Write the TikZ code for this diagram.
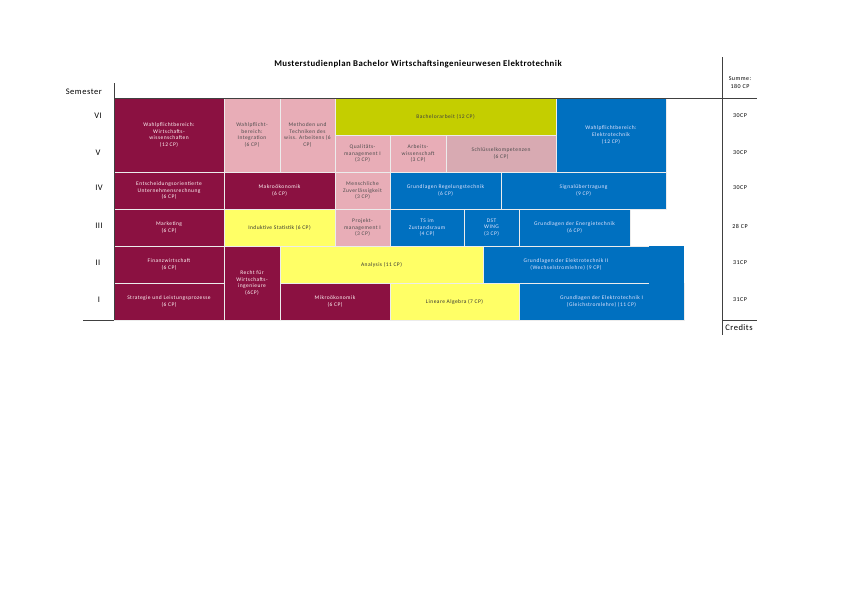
\documentclass[tikz,border=0pt]{standalone}
\usepackage{fontspec}
\setmainfont{Carlito}
\usepackage{tikz}
\definecolor{wiwired}{HTML}{8B1141}
\definecolor{integpink}{HTML}{E8ADB7}
\definecolor{softpink}{HTML}{D8AAB2}
\definecolor{thesisgreen}{HTML}{C4CE00}
\definecolor{mathyellow}{HTML}{FFFF66}
\definecolor{etblue}{HTML}{0070C0}
\tikzstyle{cell}=[rectangle,anchor=north west,inner sep=0mm,outer sep=0mm,draw=white!85!gray,line width=0.6,align=center,font=\fontsize{5.5}{6.6}\selectfont\addfontfeature{LetterSpace=8}]
\tikzstyle{onerow}=[minimum height=37pt]
\tikzstyle{tworow}=[minimum height=74pt]
\tikzstyle{wiwi}=[cell,fill=wiwired,text=white!85!pink]
\tikzstyle{integ}=[cell,fill=integpink,text=black!70]
\tikzstyle{soft}=[cell,fill=softpink,text=black!70]
\tikzstyle{thesis}=[cell,fill=thesisgreen,text=black!75]
\tikzstyle{mathe}=[cell,fill=mathyellow,text=black!80]
\tikzstyle{etech}=[cell,fill=etblue,text=white!90!blue]
\tikzstyle{sem}=[font=\fontsize{8.5}{9}\selectfont\addfontfeature{LetterSpace=6}]
\tikzstyle{sum}=[font=\fontsize{6}{8}\selectfont\addfontfeature{LetterSpace=8}]
\tikzstyle{axis}=[draw=black!75,line width=1]
\tikzset{every picture/.style={
    line width=1
  }
}

\begin{document}
\begin{tikzpicture}[x=1pt,y=-1pt]
      \useasboundingbox (0,0) rectangle (842,595);
      \node[font=\bfseries\fontsize{8.8}{9}\selectfont\addfontfeature{LetterSpace=5}] at (418,64) (title) {Musterstudienplan Bachelor Wirtschaftsingenieurwesen Elektrotechnik};
      % semester VI and V
      \node[wiwi,tworow,minimum width=110pt] at (114,98) (wpwiwi) {Wahlpflichtbereich:\\Wirtschafts-\\wissenschaften\\(12 CP)};
      \node[integ,tworow,minimum width=56pt] at (224,98) (wpint) {Wahlpflicht-\\bereich:\\Integration\\(6 CP)};
      \node[integ,tworow,minimum width=55pt] at (280,98) (methoden) {Methoden und\\Techniken des\\wiss. Arbeitens (6\\CP)};
      \node[thesis,onerow,minimum width=221pt] at (335,98) (bachelor) {Bachelorarbeit (12 CP)};
      \node[etech,tworow,minimum width=110pt] at (556,98) (wpet) {Wahlpflichtbereich:\\Elektrotechnik\\(12 CP)};
      \node[integ,onerow,minimum width=55pt] at (335,135) (quali) {Qualitäts-\\management I\\(3 CP)};
      \node[integ,onerow,minimum width=56pt] at (390,135) (arbwiss) {Arbeits-\\wissenschaft\\(3 CP)};
      \node[soft,onerow,minimum width=110pt] at (446,135) (schluessel) {Schlüsselkompetenzen\\(6 CP)};
      % semester IV
      \node[wiwi,onerow,minimum width=110pt] at (114,172) (unternehmen) {Entscheidungsorientierte\\Unternehmensrechnung\\(6 CP)};
      \node[wiwi,onerow,minimum width=111pt] at (224,172) (makro) {Makroökonomik\\(6 CP)};
      \node[integ,onerow,minimum width=55pt] at (335,172) (zuverl) {Menschliche\\Zuverlässigkeit\\(3 CP)};
      \node[etech,onerow,minimum width=111pt] at (390,172) (regelung) {Grundlagen Regelungstechnik\\(6 CP)};
      \node[etech,onerow,minimum width=165pt] at (501,172) (signal) {Signalübertragung\\(9 CP)};
      % semester III
      \node[wiwi,onerow,minimum width=110pt] at (114,209) (marketing) {Marketing\\(6 CP)};
      \node[mathe,onerow,minimum width=111pt] at (224,209) (statistik) {Induktive Statistik (6 CP)};
      \node[integ,onerow,minimum width=55pt] at (335,209) (projekt) {Projekt-\\management I\\(3 CP)};
      \node[etech,onerow,minimum width=74pt] at (390,209) (zustand) {TS im\\Zustandsraum\\(4 CP)};
      \node[etech,onerow,minimum width=55pt] at (464,209) (dst) {DST\\WING\\(3 CP)};
      \node[etech,onerow,minimum width=111pt] at (519,209) (energie) {Grundlagen der Energietechnik\\(6 CP)};
      % semester II and I
      \node[wiwi,onerow,minimum width=110pt] at (114,246) (finanz) {Finanzwirtschaft\\(6 CP)};
      \node[wiwi,tworow,minimum width=56pt] at (224,246) (recht) {Recht für\\Wirtschafts-\\ingenieure\\(6CP)};
      \node[mathe,onerow,minimum width=203pt] at (280,246) (analysis) {Analysis (11 CP)};
      \node[etech,onerow,minimum width=166pt] at (483,246) (etzwei) {Grundlagen der Elektrotechnik II\\(Wechselstromlehre) (9 CP)};
      \node[wiwi,onerow,minimum width=110pt] at (114,283) (strategie) {Strategie und Leistungsprozesse\\(6 CP)};
      \node[wiwi,onerow,minimum width=110pt] at (280,283) (mikro) {Mikroökonomik\\(6 CP)};
      \node[mathe,onerow,minimum width=129pt] at (390,283) (linalg) {Lineare Algebra (7 CP)};
      \node[etech,onerow,minimum width=165pt] at (519,283) (eteins) {Grundlagen der Elektrotechnik I\\(Gleichstromlehre) (11 CP)};
      \node[etech,draw=none,minimum width=34.7pt,minimum height=37.6pt] at (649.3,246.3) (etrest) {};
      % axes
      \node[sem,anchor=west] at (62,92) (semester) {Semester};
      \node[sem] at (98,116) (s6) {VI};
      \node[sem] at (98,153) (s5) {V};
      \node[sem] at (99,188) (s4) {IV};
      \node[sem] at (99,226) (s3) {III};
      \node[sem] at (98,263) (s2) {II};
      \node[sem] at (99,300) (s1) {I};
      \node[sum,align=center] at (740,83) (summe) {Summe:\\180 CP};
      \node[sum] at (740,116) (c6) {30CP};
      \node[sum] at (740,153) (c5) {30CP};
      \node[sum] at (740,188) (c4) {30CP};
      \node[sum] at (740,226) (c3) {28 CP};
      \node[sum] at (740,263) (c2) {31CP};
      \node[sum] at (740,300) (c1) {31CP};
      \node[sem] at (739,328) (credits) {Credits};
      \coordinate (ytop) at (114,83);
      \coordinate (ybot) at (114,320);
      \coordinate (xleft) at (83,320);
      \coordinate (htop) at (114,98);
      \coordinate (hend) at (757,98);
      \coordinate (rtop) at (722,57);
      \coordinate (rbot) at (722,335);
      \coordinate (rbl) at (722,320);
      \coordinate (rbr) at (757,320);
      \draw[axis] (ytop)--(ybot);
      \draw[axis] (xleft)--(ybot);
      \draw[axis] (htop)--(hend);
      \draw[axis] (rtop)--(rbot);
      \draw[axis] (rbl)--(rbr);
    \end{tikzpicture}
\end{document}
